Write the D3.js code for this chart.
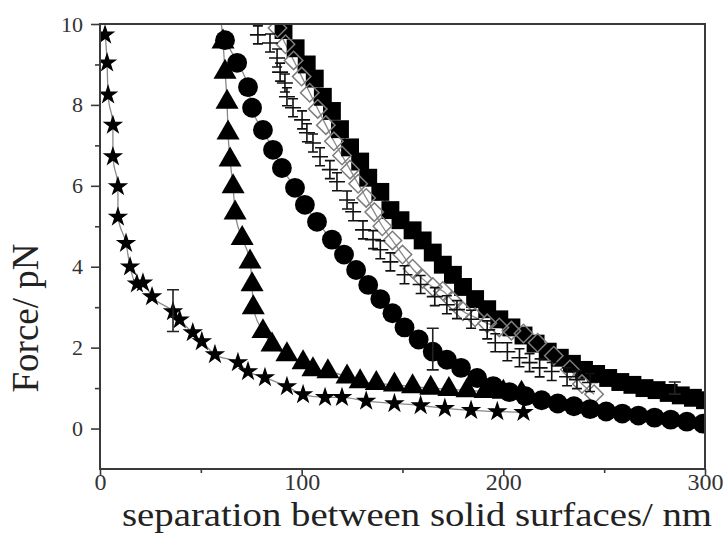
<!DOCTYPE html>
<html><head><meta charset="utf-8">
<script src="https://cdn.jsdelivr.net/npm/d3@7/dist/d3.min.js"></script>
<style>body{margin:0;background:#fff}svg{display:block}</style>
</head><body><svg id="c" width="728" height="534"></svg>
<script>
// ---- data ----
const xTicks=[0,100,200,300], xMinor=[50,150,250];
const yTicks=[0,2,4,6,8,10], yMinor=[1,3,5,7,9];
const starX=[2.5,3.5,4,6.4,6.4,8.9,8.9,12.9,14.9,18.3,21.3,25.8,36.2,39.5,46,50.5,57,68.4,73.4,81.8,92.7,100.7,111.6,120,132,146,159,171,184,197,210];
const starY=[9.73,9.04,8.25,7.5,6.72,5.98,5.23,4.58,4.0,3.58,3.6,3.26,2.89,2.69,2.37,2.15,1.83,1.63,1.41,1.26,1.04,0.84,0.77,0.77,0.68,0.62,0.57,0.5,0.45,0.42,0.4];
const triX=[59.5,61,62,63,63.5,64.5,66,67,70.5,74.4,75.4,76,80.8,85.3,92.7,100.7,105.6,113,122.5,129,137,146,155,164,173,182,191,200,209];
const triY=[10.3,9.56,8.81,8.07,7.31,6.64,5.98,5.33,4.7,4.12,3.56,2.99,2.4,2.07,1.83,1.63,1.46,1.41,1.28,1.16,1.12,1.08,1.04,1.0,0.97,0.94,0.92,0.9,0.88];
const cirX=[62,68,73.4,75.4,80.8,85.8,90.2,96.7,101.6,107.6,115,121,127,133,139,145,151,158,165,172,179,187,195,203,211,219,227,235,243,251,259,267,275,283,291,299];
const cirY=[9.6,9.04,8.44,7.93,7.38,6.89,6.44,5.95,5.53,5.11,4.67,4.3,3.92,3.55,3.2,2.85,2.5,2.2,1.9,1.7,1.5,1.25,1.05,0.9,0.8,0.7,0.62,0.55,0.48,0.42,0.37,0.32,0.27,0.22,0.17,0.12];
const plusX=[78.3,84.3,87.8,89.3,91.7,92.7,95.7,100.2,102.6,105.6,109.1,114,117.5,122.5,125.5,130.4,135.4,139,144,151,159,166,172,177,184,192,196,202,208,213,218,224,231.6,236.5,243];
const plusY=[9.73,9.53,9.16,8.81,8.54,8.2,7.93,7.63,7.31,7.06,6.72,6.4,6.1,5.65,5.36,4.91,4.67,4.42,4.12,3.8,3.56,3.26,3.06,2.94,2.7,2.44,2.12,1.9,1.75,1.63,1.5,1.41,1.28,1.21,1.14];
const diaX=[88,92,96,100,104,108,112,116,120,124,128,132,136,140,145,150,155,160,165,170,175,180,186,192,198,204,210,217,225,233,239,245];
const diaY=[9.9,9.5,9.1,8.7,8.3,7.9,7.5,7.1,6.75,6.4,6.05,5.7,5.35,5.0,4.65,4.3,3.95,3.7,3.5,3.4,3.15,2.9,2.75,2.6,2.5,2.42,2.35,2.12,1.8,1.46,1.1,0.85];
const sqX=[91,97,102.5,106.5,110.5,115,119,124,129,133,139,144,149,155,160,165,170,175,180,186,192,198,204,210,216,222,228,234,240,246,252,258,264,270,276,282,288,294,300];
const sqY=[9.85,9.4,9.0,8.65,8.2,7.85,7.4,6.95,6.6,6.2,5.85,5.4,5.15,4.9,4.65,4.35,4.05,3.8,3.5,3.2,2.95,2.7,2.5,2.3,2.1,1.9,1.75,1.6,1.45,1.35,1.25,1.15,1.08,1.0,0.95,0.88,0.82,0.76,0.7];
// error bars [x, y, low, high]
const errBars=[[36.2,2.89,2.4,3.43],[165,1.9,1.45,2.48],[285,1.0,0.85,1.15]];

// ---- chart ----
const svg=d3.select('#c');
const L=100,R=705,T=24,B=469;
const x=d3.scaleLinear().domain([0,300]).range([L,R]);
const y=d3.scaleLinear().domain([-1,10]).range([B,T]);
const axCol='#3a3a3a';
const serif='"Liberation Serif","Times New Roman",serif';

svg.append('defs').append('clipPath').attr('id','clip').append('rect')
  .attr('x',L).attr('y',T).attr('width',R-L).attr('height',B-T);

const g=svg.append('g').attr('clip-path','url(#clip)');
const ptsOf=(xs,ys)=>xs.map((v,i)=>[v,ys[i]]);
const line=d3.line().x(d=>x(d[0])).y(d=>y(d[1])).curve(d3.curveMonotoneX);

// fit lines
[[starX,starY],[triX,triY],[cirX,cirY],[diaX,diaY],[sqX,sqY]].forEach(([a,b])=>{
  g.append('path').attr('d',line(ptsOf(a,b))).attr('fill','none')
   .attr('stroke','#8a8a8a').attr('stroke-width',1.3);
});

function sym(type,size,xs,ys,fill,stroke,rot){
  g.append('g').selectAll('path').data(ptsOf(xs,ys)).join('path')
   .attr('d',d3.symbol().type(type).size(size)())
   .attr('transform',d=>`translate(${x(d[0])},${y(d[1])})`+(rot?` rotate(${rot})`:''))
   .attr('fill',fill).attr('stroke',stroke||'none').attr('stroke-width',1.5);
}
// squares
sym(d3.symbolSquare,320,sqX,sqY,'#000');
// diamonds
sym(d3.symbolSquare,170,diaX,diaY,'none','#7d7d7d',45);
// plus with small error bars
const pg=g.append('g').attr('stroke','#111').attr('stroke-width',1.6).attr('fill','none');
ptsOf(plusX,plusY).forEach(d=>{
  const cx=x(d[0]),cy=y(d[1]);
  pg.append('path').attr('d',`M${cx-8},${cy}H${cx+8}M${cx},${cy-9}V${cy+9}M${cx-5},${cy-9}H${cx+5}M${cx-5},${cy+9}H${cx+5}`);
});
// circles
sym(d3.symbolCircle,310,cirX,cirY,'#000');
// triangles
sym(d3.symbolTriangle,230,triX,triY,'#000');
// stars
sym(d3.symbolStar,130,starX,starY,'#000');

// error bars
const eg=g.append('g').attr('stroke','#222').attr('stroke-width',1.6).attr('fill','none');
errBars.forEach(e=>{
  const cx=x(e[0]),y1=y(e[2]),y2=y(e[3]);
  eg.append('path').attr('d',`M${cx},${y1}V${y2}M${cx-6},${y1}H${cx+6}M${cx-6},${y2}H${cx+6}`);
});

// frame
svg.append('rect').attr('x',L).attr('y',T).attr('width',R-L).attr('height',B-T)
  .attr('fill','none').attr('stroke',axCol).attr('stroke-width',2);

// y axis
const ya=svg.append('g').attr('transform',`translate(${L},0)`);
ya.call(d3.axisLeft(y).tickValues(yTicks).tickSize(9).tickFormat(d3.format('d')));
ya.append('g').call(d3.axisLeft(y).tickValues(yMinor).tickSize(5).tickFormat(''));
ya.selectAll('.domain').remove();
ya.selectAll('line').attr('stroke',axCol).attr('stroke-width',1.6);
ya.selectAll('text').attr('font-family',serif).attr('font-size',22).attr('fill','#333').attr('x',-17);

// x axis
const xa=svg.append('g').attr('transform',`translate(0,${B})`);
xa.call(d3.axisBottom(x).tickValues(xTicks).tickSize(6).tickFormat(d3.format('d')));
xa.append('g').call(d3.axisBottom(x).tickValues(xMinor).tickSize(4).tickFormat(''));
xa.selectAll('.domain').remove();
xa.selectAll('line').attr('stroke',axCol).attr('stroke-width',1.6);
xa.selectAll('text').attr('font-family',serif).attr('font-size',24).attr('fill','#333').attr('y',4);

// titles
svg.append('text').attr('x',(122+712)/2).attr('y',526).attr('text-anchor','middle')
  .attr('font-family',serif).attr('font-size',33).attr('fill','#222')
  .attr('textLength',590).attr('lengthAdjust','spacingAndGlyphs')
  .text('separation between solid surfaces/ nm');
svg.append('text').attr('transform','translate(38,318) rotate(-90)').attr('text-anchor','middle')
  .attr('font-family',serif).attr('font-size',37).attr('fill','#222')
  .text('Force/ pN');
</script></body></html>
